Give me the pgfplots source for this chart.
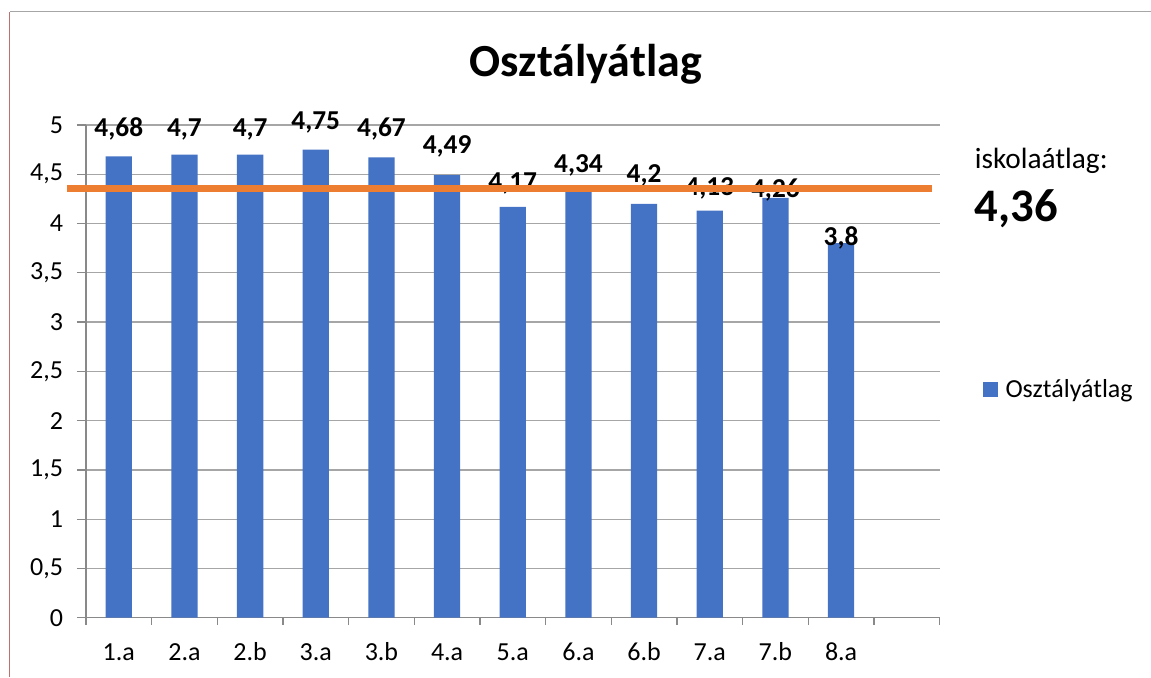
\documentclass[border=0pt]{standalone}
\usepackage{pgfplots}
\usepackage{pgfplotstable}
\usepackage{fontspec}
\setmainfont{Carlito}
\pgfplotsset{compat=1.18}

\definecolor{barblue}{HTML}{4472C4}
\definecolor{avgorange}{HTML}{ED7D31}
\definecolor{gridgray}{HTML}{A6A6A6}
\definecolor{axisgray}{HTML}{898989}

% x: slot, val: class average, ly: baseline of the data label
\pgfplotstableread{
x val ly lab
0 4.68 4.88 4,68
1 4.70 4.88 4,7
2 4.70 4.88 4,7
3 4.75 4.95 4,75
4 4.67 4.88 4,67
5 4.49 4.71 4,49
6 4.17 4.34 4,17
7 4.34 4.52 4,34
8 4.20 4.42 4,2
9 4.13 4.28 4,13
10 4.26 4.26 4,26
11 3.80 3.78 3,8
}\classdata

\pgfplotsset{samebox/.style={
    at={(0,0)}, anchor=south west,
    scale only axis,
    width=640.5pt, height=369.75pt,
    xmin=-0.5, xmax=12.5,
    ymin=0, ymax=5,
    clip=false}}

\begin{document}
\begin{tikzpicture}[x=0.75pt,y=0.75pt]
\path (-86,-59) rectangle (1065,618);
\draw[color={rgb,255:red,192;green,110;blue,110},line width=0.75pt] (-76,-59) -- (-76,606);
\draw[color=gray!70,line width=0.75pt] (-76,606) -- (1065,606);
\begin{axis}[
    samebox,
    axis x line*=bottom, axis y line*=left,
    axis line style={color=axisgray, line width=1pt},
    xtick={0,...,11},
    xticklabels={1.a,2.a,2.b,3.a,3.b,4.a,5.a,6.a,6.b,7.a,7.b,8.a},
    major x tick style={draw=none},
    minor xtick={-0.5,0.5,...,12.5},
    minor x tick style={color=axisgray, line width=1pt},
    minor tick length=5.25pt,
    ytick={0,0.5,...,5},
    major y tick style={color=axisgray, line width=1pt},
    major tick length=6.75pt,
    tick align=outside,
    ymajorgrids,
    major grid style={color=gridgray, line width=1pt},
    /pgf/number format/.cd, use comma, assume math mode=true,
    /pgfplots/.cd,
    ticklabel style={font=\fontsize{19.5}{23}\selectfont},
    yticklabel style={xshift=-7pt},
    xticklabel style={yshift=-8pt, text height=14pt, text depth=0pt},
    legend style={draw=none, fill=none, at={(axis description cs:1.05,0.464)},
        anchor=west, inner sep=0pt, column sep=4pt,
        font=\fontsize{19.5}{23}\selectfont},
    legend cell align=left,
]
\addplot[ybar, bar width=0.4, fill=barblue, draw=none,
    legend image code/.code={\fill[barblue] (0pt,-5.6pt) rectangle (11.25pt,5.6pt);}]
    table[x=x, y=val] {\classdata};
\addlegendentry{Osztályátlag}
\addplot[draw=none, mark=none, forget plot, nodes near coords,
    point meta=explicit symbolic,
    nodes near coords style={anchor=base, inner sep=0pt,
        font=\bfseries\fontsize{20.5}{24}\selectfont}]
    table[x=x, y=ly, meta=lab] {\classdata};
\end{axis}
% school average line, drawn over the data labels
\begin{axis}[samebox, hide axis]
\addplot[color=avgorange, line width=5.25pt]
    coordinates {(-0.79,4.36) (12.39,4.36)};
\end{axis}
\node[anchor=base, inner sep=0pt, font=\bfseries\fontsize{34.5}{41}\selectfont] at (500,541) {Osztályátlag};
\node[anchor=base west, inner sep=0pt, font=\fontsize{22}{26}\selectfont] at (889,449) {iskolaátlag:};
\node[anchor=base west, inner sep=0pt, font=\bfseries\fontsize{35}{42}\selectfont] at (889,396) {4,36};
\end{tikzpicture}
\end{document}
